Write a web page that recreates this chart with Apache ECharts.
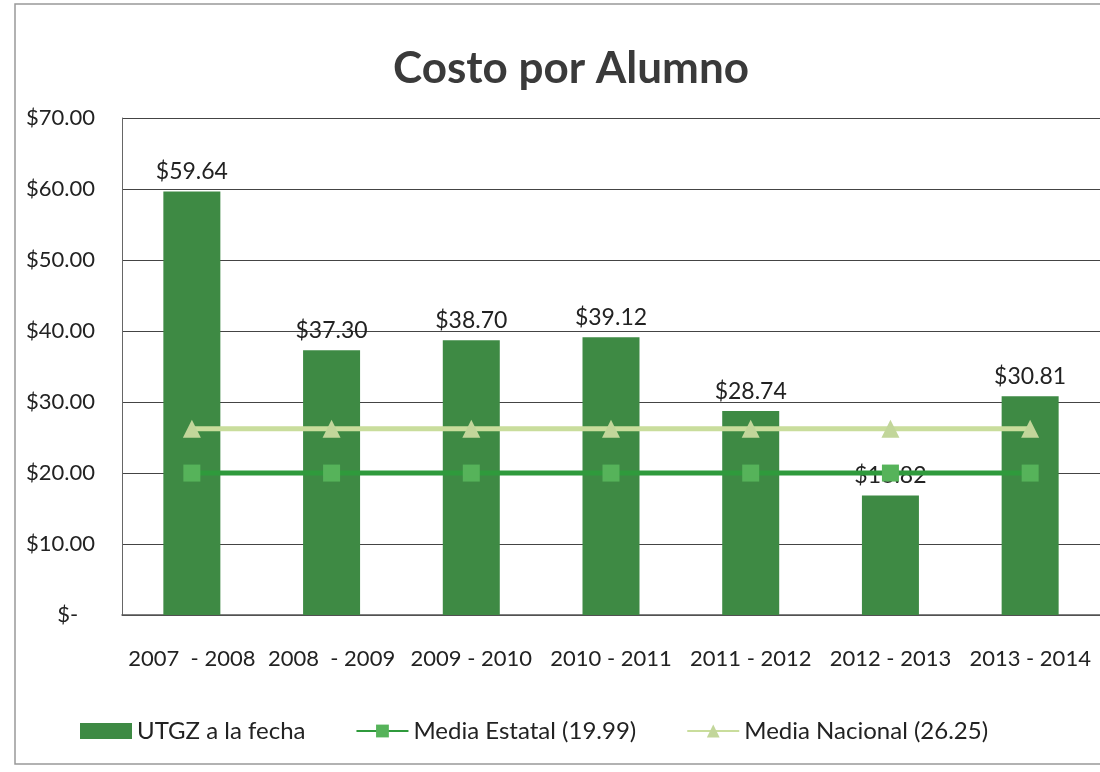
<!DOCTYPE html>
<html><head><meta charset="utf-8">
<script src="https://cdn.jsdelivr.net/npm/echarts@6/dist/echarts.min.js"></script>
<style>html,body{margin:0;padding:0;background:#fff}#c{width:1100px;height:772px}</style>
</head><body><div id="c"></div>
<script>
const categories = ['2007  - 2008','2008  - 2009','2009 - 2010','2010 - 2011','2011 - 2012','2012 - 2013','2013 - 2014'];
const utgz = [59.64, 37.30, 38.70, 39.12, 28.74, 16.82, 30.81];
const mediaEstatal = [19.99, 19.99, 19.99, 19.99, 19.99, 19.99, 19.99];
const mediaNacional = [26.25, 26.25, 26.25, 26.25, 26.25, 26.25, 26.25];
const yTicks = [0, 10, 20, 30, 40, 50, 60, 70];

const FONT = 'Lato';
const chart = echarts.init(document.getElementById('c'));
chart.setOption({
  backgroundColor: '#fff',
  textStyle: {fontFamily: FONT},
  title: {text: 'Costo por Alumno', left: 566, top: 42, textAlign: 'center',
    textStyle: {fontSize: 44, fontWeight: 'bold', color: '#3a3a3a', fontFamily: FONT}},
  graphic: [{type: 'rect', shape: {x: 15, y: 4, width: 1090, height: 760},
    style: {fill: 'none', stroke: '#999', lineWidth: 1.5}, silent: true}],
  legend: {top: 714, left: 75, itemGap: 50, itemWidth: 52, itemHeight: 16,
    textStyle: {fontSize: 24, color: '#222', fontFamily: FONT},
    data: [{name: 'UTGZ a la fecha', icon: 'rect'}, {name: 'Media Estatal (19.99)'}, {name: 'Media Nacional (26.25)'}]},
  grid: {left: 122, right: 0, top: 118, bottom: 157},
  xAxis: {type: 'category', data: categories,
    axisLine: {show: true, lineStyle: {color: '#555', width: 1.5}},
    axisTick: {show: false},
    axisLabel: {fontSize: 22, color: '#222', margin: 33, interval: 0, fontFamily: FONT}},
  yAxis: {type: 'value', min: 0, max: 70, interval: 10,
    axisLine: {show: true, lineStyle: {color: '#666', width: 1}},
    axisTick: {show: false},
    splitLine: {lineStyle: {color: '#444', width: 1.2}},
    axisLabel: {fontSize: 22, color: '#222', margin: 27, fontFamily: FONT,
      formatter: v => yTicks.includes(v) ? (v === 0 ? '$-   ' : '$' + v.toFixed(2)) : ''}},
  series: [
    {name: 'UTGZ a la fecha', type: 'bar', data: utgz, barWidth: 57,
      itemStyle: {color: '#3e8a44'},
      label: {show: true, position: 'top', distance: 8, fontSize: 23, color: '#222', fontFamily: FONT,
        formatter: p => '$' + p.value.toFixed(2)}},
    {name: 'Media Estatal (19.99)', type: 'line', data: mediaEstatal, z: 3,
      lineStyle: {color: '#2f9a3c', width: 5}, itemStyle: {color: '#56b35a'},
      symbol: 'rect', symbolSize: 17, showSymbol: true},
    {name: 'Media Nacional (26.25)', type: 'line', data: mediaNacional, z: 3,
      lineStyle: {color: '#c9dd9c', width: 5}, itemStyle: {color: '#c2d69a'},
      symbol: 'triangle', symbolSize: 18, showSymbol: true}
  ]
});
</script></body></html>
